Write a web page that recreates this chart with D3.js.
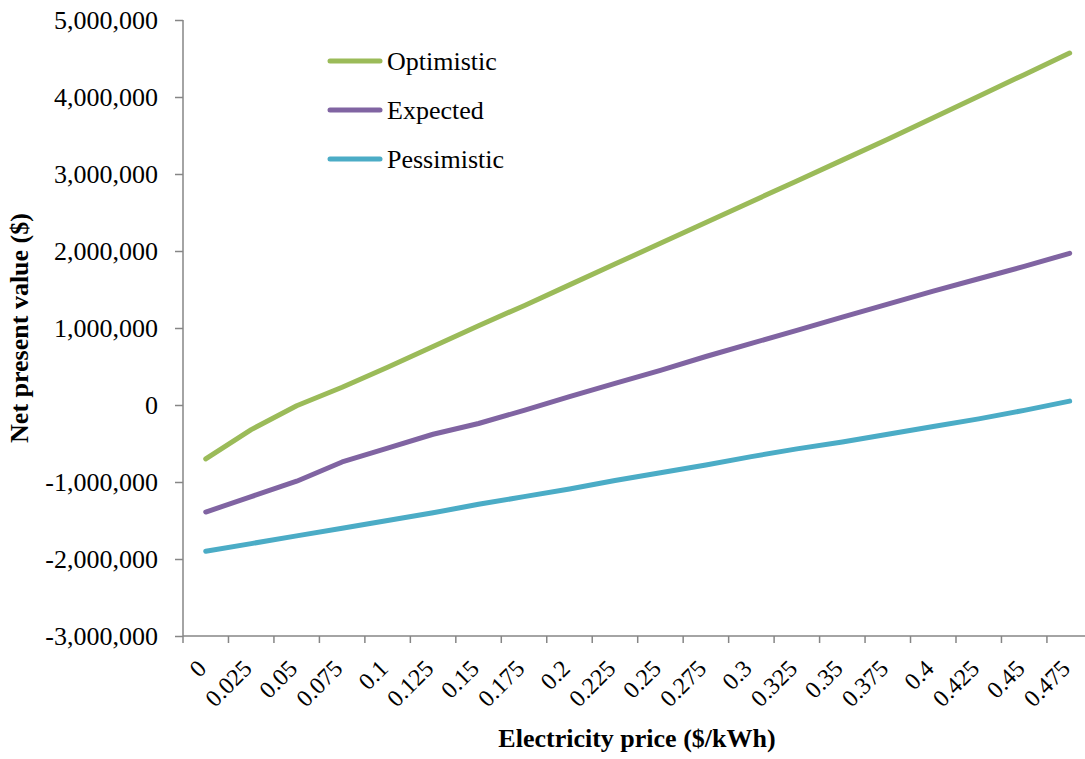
<!DOCTYPE html>
<html>
<head>
<meta charset="utf-8">
<script src="https://cdn.jsdelivr.net/npm/d3@7"></script>
<style>
  html, body { margin: 0; padding: 0; background: #fff; }
  svg { display: block; }
  text { font-family: "Liberation Serif", "Times New Roman", serif; fill: #000; }
</style>
</head>
<body>
<svg id="chart" width="1085" height="759"></svg>
<script>
// ---- data ----
const categories = ["0","0.025","0.05","0.075","0.1","0.125","0.15","0.175","0.2","0.225",
                    "0.25","0.275","0.3","0.325","0.35","0.375","0.4","0.425","0.45","0.475"];
const optimistic = [-700000,-320000,-10000,230000,490000,760000,1030000,1290000,1560000,1830000,
                    2100000,2370000,2640000,2910000,3180000,3450000,3730000,4010000,4290000,4570000];
const expected   = [-1390000,-1190000,-990000,-740000,-560000,-380000,-240000,-70000,110000,280000,
                    450000,630000,800000,970000,1140000,1310000,1480000,1640000,1800000,1970000];
const pessimistic= [-1900000,-1800000,-1700000,-1600000,-1500000,-1400000,-1290000,-1190000,-1090000,-980000,
                    -880000,-780000,-670000,-570000,-480000,-380000,-280000,-180000,-70000,50000];
const seriesNames = ["Optimistic","Expected","Pessimistic"];
const yTicks = [-3000000,-2000000,-1000000,0,1000000,2000000,3000000,4000000,5000000];
const xTitle = "Electricity price ($/kWh)";
const yTitle = "Net present value ($)";

// ---- layout ----
const colors = ["#9BBB59","#8064A2","#4BACC6"];
const axisColor = "#868686";
const svg = d3.select("#chart");
const plotLeft = 183, plotTop = 20, plotBottom = 636, bandW = 45.47;
const x = d3.scaleBand().domain(categories).range([plotLeft, plotLeft + bandW * categories.length]).padding(0);
const y = d3.scaleLinear().domain([-3000000, 5000000]).range([plotBottom, plotTop]);
const fmt = d3.formatLocale({decimal: ".", thousands: ",", grouping: [3], currency: ["$",""], minus: "-"}).format(",");

// y axis
const yAxis = svg.append("g").attr("transform", `translate(${plotLeft},0)`)
  .call(d3.axisLeft(y).tickValues(yTicks).tickFormat(fmt).tickSize(8).tickPadding(17));
yAxis.select(".domain").attr("stroke", axisColor).attr("stroke-width", 1.5).attr("d", `M0,${plotTop}V${plotBottom}`);
yAxis.selectAll(".tick line").attr("stroke", axisColor).attr("stroke-width", 1.5);
yAxis.selectAll(".tick text").attr("font-size", 26).attr("font-family", "Liberation Serif, Times New Roman, serif").attr("fill", "#000");

// x axis
const xAxisG = svg.append("g").attr("transform", `translate(0,${plotBottom})`);
xAxisG.append("line").attr("x1", plotLeft).attr("x2", plotLeft + bandW * categories.length)
  .attr("y1", 0).attr("y2", 0).attr("stroke", axisColor).attr("stroke-width", 1.5);
xAxisG.selectAll("line.tk").data(categories).enter().append("line").attr("class", "tk")
  .attr("x1", d => x(d)).attr("x2", d => x(d)).attr("y1", 0).attr("y2", 7)
  .attr("stroke", axisColor).attr("stroke-width", 1.5);
xAxisG.selectAll("text.lbl").data(categories).enter().append("text").attr("class", "lbl")
  .attr("transform", d => `translate(${x(d) + x.bandwidth() / 2 - 4},28) rotate(-45)`)
  .attr("text-anchor", "end").attr("dy", "0.35em").attr("font-size", 24).text(d => d);

// axis titles
svg.append("text").attr("x", 637).attr("y", 747).attr("text-anchor", "middle")
  .attr("font-weight", "bold").attr("font-size", 26).text(xTitle);
svg.append("text").attr("transform", `translate(28,${(plotTop + plotBottom) / 2}) rotate(-90)`)
  .attr("text-anchor", "middle").attr("font-weight", "bold").attr("font-size", 26).text(yTitle);

// lines
const allSeries = [optimistic, expected, pessimistic];
const line = d3.line().x((d, i) => x(categories[i]) + x.bandwidth() / 2).y(d => y(d));
svg.selectAll("path.series").data(allSeries).enter().append("path").attr("class", "series")
  .attr("d", line).attr("fill", "none").attr("stroke", (d, i) => colors[i])
  .attr("stroke-width", 5).attr("stroke-linecap", "round").attr("stroke-linejoin", "round");

// legend
const legend = svg.append("g");
const legY = [61, 110, 159];
seriesNames.forEach((name, i) => {
  legend.append("line").attr("x1", 330).attr("x2", 380).attr("y1", legY[i]).attr("y2", legY[i])
    .attr("stroke", colors[i]).attr("stroke-width", 5).attr("stroke-linecap", "round");
  legend.append("text").attr("x", 387).attr("y", legY[i]).attr("dy", "0.35em")
    .attr("font-size", 26).text(name);
});
</script>
</body>
</html>
